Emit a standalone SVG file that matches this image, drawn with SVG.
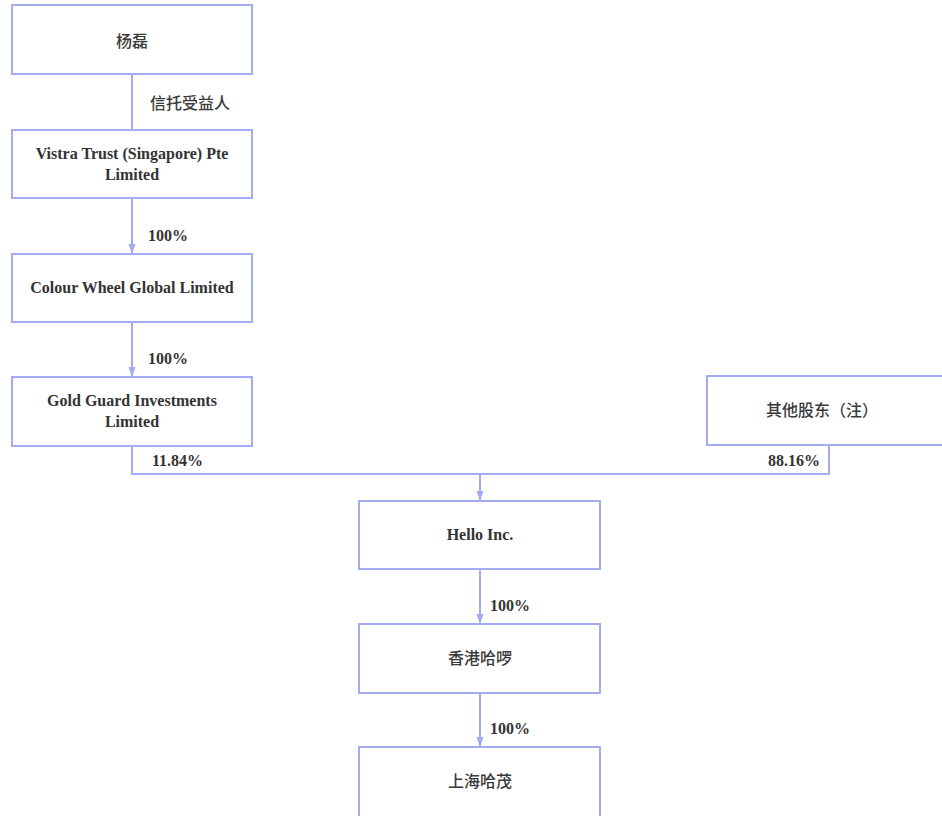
<svg xmlns="http://www.w3.org/2000/svg" width="942" height="816" viewBox="0 0 942 816">
<style>
.box{fill:#fff;stroke:#a3abf3;stroke-width:2}
.ln{fill:none;stroke:#a3abf3;stroke-width:2}
.t{font-family:"Liberation Serif","Noto Sans CJK SC",serif;font-weight:bold;font-size:16px;fill:#333;text-anchor:middle}
.c{font-family:"Noto Sans CJK SC",sans-serif;font-weight:500;font-size:16px;fill:#3a3a3a;text-anchor:middle}
.lb{font-family:"Liberation Serif","Noto Sans CJK SC",serif;font-weight:bold;font-size:16px;fill:#333}
.lc{font-family:"Noto Sans CJK SC",sans-serif;font-weight:500;font-size:16px;fill:#3a3a3a}
</style>
<defs>
<marker id="ah" markerWidth="10" markerHeight="14" refX="14" refY="5" orient="auto" markerUnits="userSpaceOnUse" viewBox="0 0 14 10">
<path d="M0,0 L14,5 L0,10 Z" fill="#a3abf3"/>
</marker>
</defs>
<rect width="942" height="816" fill="#fff"/>
<g id="connectors">
<path class="ln" d="M132,74 V130"/>
<path class="ln" d="M132,198 V254" marker-end="url(#ah)"/>
<path class="ln" d="M132,322 V377" marker-end="url(#ah)"/>
<path class="ln" d="M132,446 V474 H829 V445"/>
<path class="ln" d="M480,474 V501" marker-end="url(#ah)"/>
<path class="ln" d="M480,569 V624" marker-end="url(#ah)"/>
<path class="ln" d="M480,693 V747" marker-end="url(#ah)"/>
<text class="lc" x="150" y="109">信托受益人</text>
<text class="lb" x="148" y="241">100%</text>
<text class="lb" x="148" y="364">100%</text>
<text class="lb" x="152" y="466">11.84%</text>
<text class="lb" x="768" y="466">88.16%</text>
<text class="lb" x="490" y="611">100%</text>
<text class="lb" x="490" y="734">100%</text>
</g>
<g id="n1"><rect class="box" x="12" y="5" width="240" height="69"/><text class="c" x="132" y="47">杨磊</text></g>
<g id="n2"><rect class="box" x="12" y="130" width="240" height="68"/><text class="t" x="132" y="159">Vistra Trust (Singapore) Pte</text><text class="t" x="132" y="180">Limited</text></g>
<g id="n3"><rect class="box" x="12" y="254" width="240" height="68"/><text class="t" x="132" y="293">Colour Wheel Global Limited</text></g>
<g id="n4"><rect class="box" x="12" y="377" width="240" height="69"/><text class="t" x="132" y="406">Gold Guard Investments</text><text class="t" x="132" y="427">Limited</text></g>
<g id="n5"><rect class="box" x="707" y="376" width="240" height="69"/><text class="c" x="822" y="416">其他股东（注）</text></g>
<g id="n6"><rect class="box" x="359" y="501" width="241" height="68"/><text class="t" x="480" y="540">Hello Inc.</text></g>
<g id="n7"><rect class="box" x="359" y="624" width="241" height="69"/><text class="c" x="480" y="664">香港哈啰</text></g>
<g id="n8"><rect class="box" x="359" y="747" width="241" height="80"/><text class="c" x="480" y="787">上海哈茂</text></g>
</svg>
